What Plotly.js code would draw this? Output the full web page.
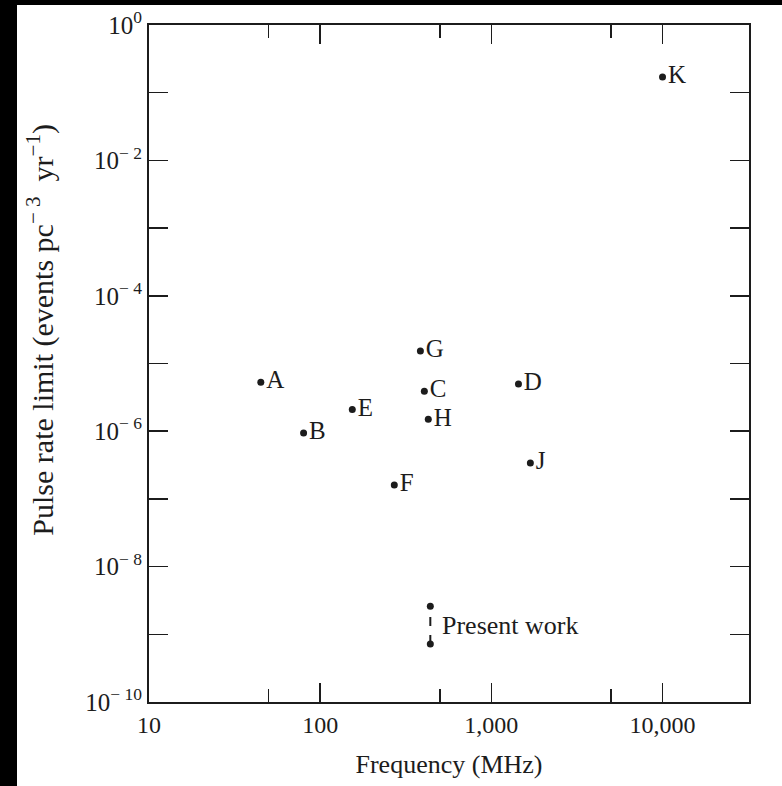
<!DOCTYPE html>
<html>
<head>
<meta charset="utf-8">
<script src="https://cdn.plot.ly/plotly-3.0.1.min.js"></script>
<style>
  html, body { margin: 0; padding: 0; background: #000; width: 782px; height: 786px; overflow: hidden; }
  #chart { position: absolute; left: 17px; top: 5px; width: 765px; height: 781px; background: #fff; }
</style>
</head>
<body>
<div id="chart"></div>
<script>
// Survey points
const labels = ['A', 'B', 'C', 'D', 'E', 'F', 'G', 'H', 'J', 'K'];
const freqMHz = [45, 80, 406, 1440, 154, 271, 385, 428, 1690, 10000];
const rateLimit = [5.3e-6, 9.4e-7, 3.9e-6, 5.0e-6, 2.1e-6, 1.6e-7, 1.53e-5, 1.5e-6, 3.4e-7, 0.17];

// Present work range
const presentFreq = [440, 440];
const presentRate = [7.2e-10, 2.6e-9];
const presentLabel = 'Present work';

// Axis ticks
const xTickVals = [10, 100, 1000, 10000];
const xTickText = ['10', '100', '1,000', '10,000'];
const xMinorVals = [50, 500, 5000];
const yTickVals = [1e-10, 1e-8, 1e-6, 1e-4, 1e-2, 1];
const yTickText = ['10<sup>− 10</sup>', '10<sup>− 8</sup>', '10<sup>− 6</sup>', '10<sup>− 4</sup>', '10<sup>− 2</sup>', '10<sup>0</sup>'];
const yMinorVals = [1e-9, 1e-7, 1e-5, 1e-3, 1e-1];

const xTitle = 'Frequency (MHz)';
const yTitle = 'Pulse rate limit (events pc<sup>− 3</sup>  yr<sup>−1</sup>)';

const ink = '#1c1c1c';
const serif = 'Liberation Serif, Times New Roman, serif';

const traces = [
  {
    x: freqMHz, y: rateLimit, text: labels,
    mode: 'markers+text', type: 'scatter',
    textposition: 'middle right',
    textfont: { family: serif, size: 25, color: ink },
    marker: { color: ink, size: 7 },
    hoverinfo: 'skip', showlegend: false
  },
  {
    x: presentFreq, y: presentRate,
    mode: 'lines+markers', type: 'scatter',
    line: { color: ink, width: 2, dash: 'dash' },
    marker: { color: ink, size: 7 },
    hoverinfo: 'skip', showlegend: false
  }
];

const layout = {
  width: 765, height: 781,
  margin: { l: 132, r: 33, t: 20, b: 84 },
  paper_bgcolor: '#fff', plot_bgcolor: '#fff',
  font: { family: serif, color: ink, size: 22 },
  xaxis: {
    type: 'log', range: [1, Math.log10(32000)],
    showgrid: false, zeroline: false,
    showline: true, linecolor: ink, linewidth: 2, mirror: 'ticks',
    ticks: 'inside', ticklen: 19, tickwidth: 1.5, tickcolor: ink,
    tickmode: 'array', tickvals: xTickVals, ticktext: xTickText,
    tickfont: { family: serif, size: 24, color: ink },
    minor: { tickmode: 'array', tickvals: xMinorVals, ticks: 'inside', ticklen: 13, tickwidth: 1.5, tickcolor: ink, showgrid: false },
    title: { text: xTitle, font: { family: serif, size: 26, color: ink }, standoff: 18 }
  },
  yaxis: {
    type: 'log', range: [-10, 0],
    showgrid: false, zeroline: false,
    showline: true, linecolor: ink, linewidth: 2, mirror: 'ticks',
    ticks: 'inside', ticklen: 19, tickwidth: 1.5, tickcolor: ink,
    tickmode: 'array', tickvals: yTickVals, ticktext: yTickText,
    tickfont: { family: serif, size: 25, color: ink },
    minor: { tickmode: 'array', tickvals: yMinorVals, ticks: 'inside', ticklen: 19, tickwidth: 1.5, tickcolor: ink, showgrid: false }
  },
  annotations: [
    {
      x: Math.log10(presentFreq[0]),
      y: (Math.log10(presentRate[0]) + Math.log10(presentRate[1])) / 2,
      xref: 'x', yref: 'y', text: presentLabel, showarrow: false,
      xanchor: 'left', yanchor: 'middle', xshift: 10,
      font: { family: serif, size: 26, color: ink }
    },
    {
      x: -0.18, y: 0.55, xref: 'paper', yref: 'paper',
      text: yTitle, textangle: -90, showarrow: false,
      xanchor: 'center', yanchor: 'middle',
      font: { family: serif, size: 30, color: ink }
    }
  ]
};

Plotly.newPlot('chart', traces, layout, { displayModeBar: false, staticPlot: true });
</script>
</body>
</html>
